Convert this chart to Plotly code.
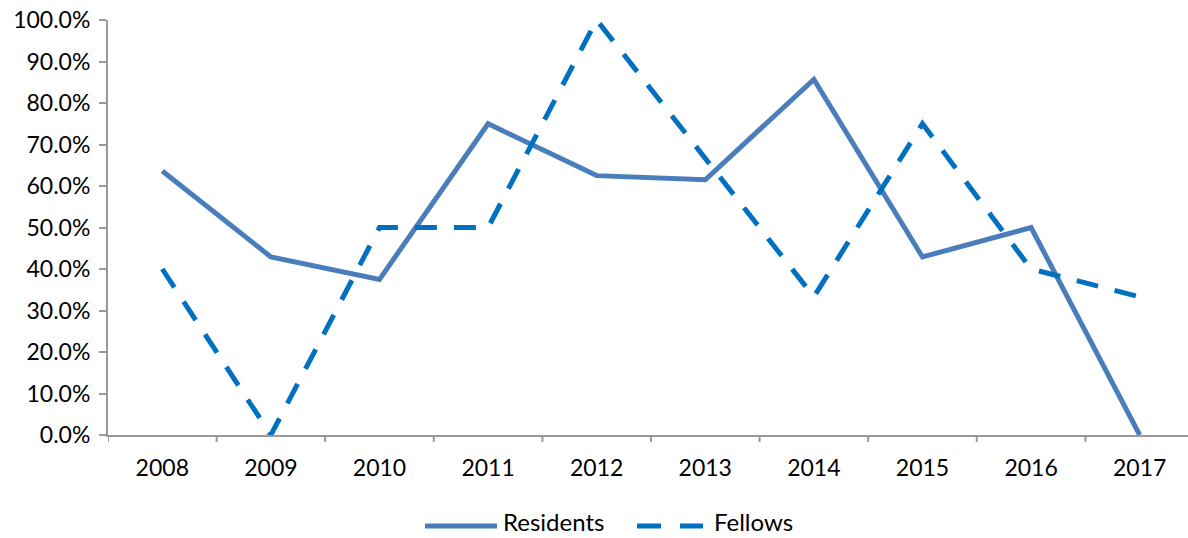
import plotly.graph_objects as go

years = ["2008", "2009", "2010", "2011", "2012", "2013", "2014", "2015", "2016", "2017"]
residents = [0.636, 0.429, 0.375, 0.75, 0.625, 0.615, 0.857, 0.429, 0.50, 0.0]
fellows = [0.40, 0.0, 0.50, 0.50, 1.0, 0.667, 0.333, 0.75, 0.40, 0.333]
y_ticks = [i / 10 for i in range(11)]

res_color = "#4A7EBB"
fel_color = "#0070C0"
fel_dash = "22px,17px"

fig = go.Figure()
fig.add_trace(go.Scatter(x=years, y=residents, name="Residents", mode="lines",
                         line=dict(color=res_color, width=5)))
fig.add_trace(go.Scatter(x=years, y=fellows, name="Fellows", mode="lines",
                         line=dict(color=fel_color, width=5, dash=fel_dash)))

fs = 23
fig.update_layout(
    width=1188, height=538,
    margin=dict(l=108, r=0, t=20, b=103),
    paper_bgcolor="white", plot_bgcolor="white",
    font=dict(family="Lato, Noto Sans, sans-serif", size=fs, color="black"),
    showlegend=False,
    xaxis=dict(type="category", range=[-0.5, 9.445], showgrid=False, automargin=False,
               showline=True, linecolor="#999999", linewidth=2,
               ticks="", tickfont=dict(size=fs), ticklabelstandoff=11),
    yaxis=dict(range=[0, 1.0], tickvals=y_ticks, tickformat=".1%", showgrid=False,
               automargin=False,
               showline=True, linecolor="#999999", linewidth=2,
               ticks="outside", ticklen=7, tickcolor="#999999", tickwidth=2,
               zeroline=False, tickfont=dict(size=fs), ticklabelstandoff=4),
)

# category boundary ticks on x axis
for i in range(10):
    fig.add_shape(type="line", xref="x", yref="paper", x0=i - 0.5, x1=i - 0.5,
                  y0=0, y1=-0.017, line=dict(color="#999999", width=2))

# custom legend (paper coords, pixel-derived)
pw, ph = 1080, 415
def px(xp):
    return (xp - 108) / pw
def py(yp):
    return (435 - yp) / ph

ly = 526
fig.add_shape(type="line", xref="paper", yref="paper", x0=px(425), x1=px(497),
              y0=py(ly), y1=py(ly), line=dict(color=res_color, width=5))
fig.add_annotation(xref="paper", yref="paper", x=px(502), y=py(537), text="Residents",
                   showarrow=False, xanchor="left", yanchor="bottom", font=dict(size=fs + 1),
                   borderpad=0)
fig.add_shape(type="line", xref="paper", yref="paper", x0=px(637), x1=px(703),
              y0=py(ly), y1=py(ly), line=dict(color=fel_color, width=5, dash="24px,19px"))
fig.add_annotation(xref="paper", yref="paper", x=px(713), y=py(537), text="Fellows",
                   showarrow=False, xanchor="left", yanchor="bottom", font=dict(size=fs + 1),
                   borderpad=0)

fig.write_html("out.html", config={"displayModeBar": False},
               post_script="document.body.style.margin='0';")
